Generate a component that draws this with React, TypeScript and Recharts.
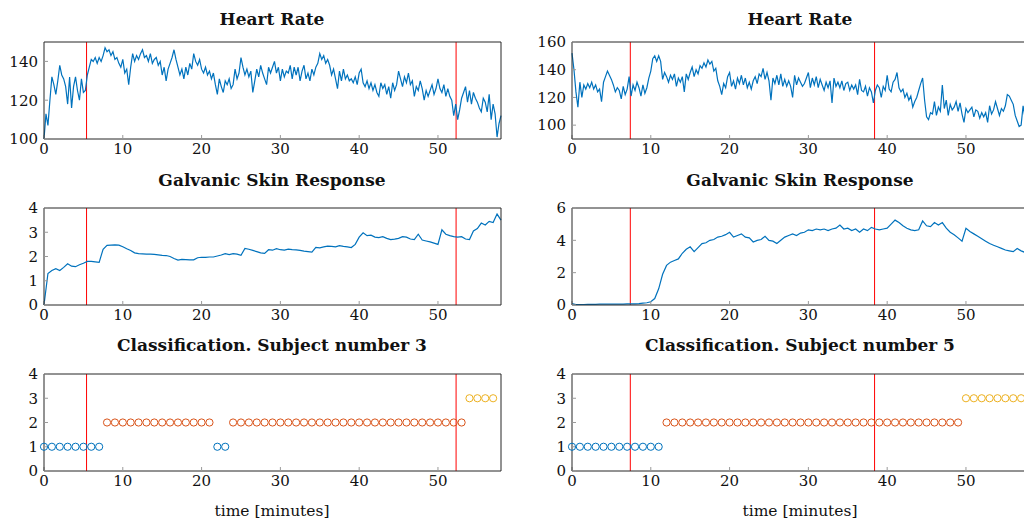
import React from 'react';
import { LineChart, Line, XAxis, YAxis, ReferenceLine } from 'recharts';

// ---------- data ----------
const HR_STEP = 0.25; // minutes between heart-rate samples
const GSR_STEP = 0.5; // minutes between GSR samples
const X_MAX = 58;
const X_TICKS = [0, 10, 20, 30, 40, 50];

// Subject 3 heart rate (t = 0 .. 58, step 0.25)
const hrSubject3 = [
  100, 113, 107, 120, 132, 128, 123, 130, 138, 133, 131, 127, 118, 132, 116, 127,
  132, 125, 120, 131, 124, 125, 133, 137, 141, 140, 142, 139, 142, 140, 143, 147,
  145, 146, 143, 145, 141, 142, 139, 137, 141, 134, 136, 128, 137, 144, 140, 143,
  141, 144, 146, 142, 143, 140, 144, 139, 141, 142, 138, 140, 133, 137, 130, 136,
  139, 142, 146, 141, 137, 133, 136, 131, 137, 133, 139, 136, 144, 140, 138, 141,
  136, 134, 137, 133, 135, 131, 134, 128, 123, 131, 127, 124, 130, 128, 131, 126,
  128, 136, 131, 134, 142, 137, 133, 136, 132, 135, 124, 130, 136, 132, 138, 134,
  131, 128, 137, 134, 137, 140, 134, 137, 130, 136, 132, 135, 134, 138, 131, 137,
  133, 137, 130, 135, 138, 131, 134, 130, 136, 133, 137, 139, 144, 141, 143, 139,
  141, 138, 133, 136, 131, 126, 135, 130, 136, 131, 133, 130, 131, 129, 132, 128,
  134, 136, 129, 127, 130, 126, 129, 125, 128, 124, 122, 129, 126, 128, 123, 127,
  121, 129, 125, 128, 135, 131, 127, 132, 129, 134, 128, 130, 122, 127, 125, 130,
  126, 120, 125, 122, 125, 128, 123, 126, 131, 126, 124, 128, 122, 126, 122, 120,
  112, 118, 110, 115, 121, 124, 127, 119, 125, 118, 124, 121, 119, 116, 114, 121,
  119, 114, 123, 110, 118, 113, 101, 108, 112,
];

// Subject 5 heart rate (t = 0 .. 58, step 0.25)
const hrSubject5 = [
  152, 140, 124, 113, 131, 120, 129, 126, 130, 127, 131, 126, 129, 124, 126, 117,
  131, 135, 139, 136, 133, 129, 124, 127, 125, 119, 128, 122, 126, 135, 121, 129,
  125, 131, 127, 121, 129, 123, 127, 134, 139, 148, 150, 146, 150, 146, 133, 138,
  135, 131, 136, 133, 137, 128, 134, 131, 135, 124, 137, 133, 138, 142, 135, 140,
  137, 143, 141, 145, 142, 147, 144, 146, 139, 141, 132, 128, 122, 130, 127, 135,
  138, 128, 132, 126, 134, 130, 136, 129, 134, 127, 131, 126, 132, 135, 130, 137,
  135, 141, 133, 138, 132, 118, 134, 130, 136, 129, 137, 128, 133, 128, 132, 128,
  120, 136, 129, 134, 131, 128, 130, 134, 138, 127, 134, 129, 135, 127, 133, 129,
  125, 131, 127, 132, 116, 134, 128, 131, 127, 132, 125, 130, 131, 125, 129, 126,
  129, 122, 133, 125, 124, 128, 121, 127, 124, 116, 125, 129, 127, 120, 128, 125,
  136, 126, 124, 131, 133, 138, 127, 124, 126, 120, 123, 118, 121, 113, 117, 120,
  125, 130, 134, 118, 106, 104, 109, 108, 117, 107, 113, 110, 129, 112, 118, 107,
  115, 111, 113, 117, 110, 116, 108, 102, 112, 109, 111, 113, 106, 111, 110, 105,
  109, 106, 109, 102, 114, 108, 111, 117, 112, 107, 112, 110, 114, 122, 121, 118,
  115, 107, 103, 99, 100, 114, 105, 108, 104,
];

// Subject 3 galvanic skin response (t = 0 .. 58, step 0.5)
const gsrSubject3 = [
  0.0, 1.3, 1.42, 1.5, 1.42, 1.55, 1.7, 1.6, 1.58, 1.66, 1.72, 1.8, 1.8, 1.78, 1.76, 2.3,
  2.46, 2.47, 2.48, 2.47, 2.4, 2.32, 2.25, 2.15, 2.12, 2.11, 2.1, 2.1, 2.09, 2.07, 2.05, 2.04,
  2.0, 1.92, 1.85, 1.88, 1.87, 1.86, 1.86, 1.95, 1.97, 1.96, 1.98, 1.98, 2.02, 2.06, 2.12, 2.08,
  2.12, 2.1, 2.05, 2.33, 2.3, 2.25, 2.2, 2.15, 2.13, 2.28, 2.26, 2.32, 2.28, 2.26, 2.3, 2.28,
  2.27, 2.25, 2.22, 2.2, 2.18, 2.38, 2.36, 2.4, 2.43, 2.42, 2.4, 2.45, 2.42, 2.4, 2.37, 2.5,
  2.8, 2.98, 2.86, 2.88, 2.8, 2.78, 2.82, 2.75, 2.7, 2.72, 2.75, 2.82, 2.8, 2.72, 2.7, 2.92,
  2.68, 2.64, 2.6, 2.55, 2.5, 3.1, 2.92, 2.86, 2.82, 2.8, 2.82, 2.72, 2.7, 3.05, 3.15, 3.38,
  3.3, 3.45, 3.4, 3.75, 3.5,
];

// Subject 5 galvanic skin response (t = 0 .. 58, step 0.5)
const gsrSubject5 = [
  0.08, 0.03, 0.03, 0.03, 0.04, 0.04, 0.04, 0.05, 0.05, 0.05, 0.05, 0.06, 0.06, 0.06, 0.07, 0.07,
  0.07, 0.08, 0.12, 0.14, 0.2, 0.4, 1.0, 1.9, 2.45, 2.65, 2.75, 2.85, 3.2, 3.45, 3.6, 3.3,
  3.55, 3.8, 3.85, 4.0, 4.05, 4.2, 4.25, 4.35, 4.5, 4.2, 4.3, 4.4, 4.2, 4.15, 3.9, 4.0,
  4.05, 4.25, 4.0, 3.95, 3.8, 4.0, 4.2, 4.3, 4.4, 4.3, 4.45, 4.5, 4.65, 4.6, 4.7, 4.65,
  4.7, 4.6, 4.7, 4.75, 4.95, 4.7, 4.75, 4.6, 4.7, 4.5, 4.7, 4.6, 4.8, 4.7, 4.65, 4.7,
  4.75, 5.0, 5.25, 5.1, 4.9, 4.75, 4.65, 4.6, 4.65, 5.2, 4.9, 4.85, 5.1, 4.95, 5.1, 4.75,
  4.5, 4.35, 4.15, 3.95, 4.75, 4.55, 4.4, 4.25, 4.1, 3.95, 3.8, 3.7, 3.6, 3.5, 3.4, 3.35,
  3.3, 3.5, 3.35, 3.25, 3.3,
];

// Classification: minutes assigned to each class
const s3Class1 = [0, 1, 2, 3, 4, 5, 6, 7, 22, 23];
const s3Class2 = [
  8, 9, 10, 11, 12, 13, 14, 15, 16, 17, 18, 19, 20, 21,
  24, 25, 26, 27, 28, 29, 30, 31, 32, 33, 34, 35, 36, 37, 38, 39, 40, 41, 42, 43, 44, 45,
  46, 47, 48, 49, 50, 51, 52, 53,
];
const s3Class3 = [54, 55, 56, 57];
const s5Class1 = [0, 1, 2, 3, 4, 5, 6, 7, 8, 9, 10, 11];
const s5Class2 = [
  12, 13, 14, 15, 16, 17, 18, 19, 20, 21, 22, 23, 24, 25, 26, 27, 28, 29, 30, 31, 32, 33,
  34, 35, 36, 37, 38, 39, 40, 41, 42, 43, 44, 45, 46, 47, 48, 49,
];
const s5Class3 = [50, 51, 52, 53, 54, 55, 56, 57];

// Event markers (minutes)
const s3Events = [5.4, 52.3];
const s5Events = [7.4, 38.4];

// ---------- helpers ----------
const toSeries = (vals: number[], step: number) =>
  vals.map((v, i) => ({ t: Math.round(i * step * 100) / 100, v }));
const toClass = (mins: number[], level: number) => mins.map((m) => ({ t: m, v: level }));

const LINE_BLUE = '#0072BD';
const C1 = '#0072BD';
const C2 = '#D95319';
const C3 = '#EDB120';
const AXIS = '#262626';
const TICK = '#9a9a9a';
const FONT = "'DejaVu Serif', 'Liberation Serif', serif";

const YW = 60;
const MT = 12;

type PanelProps = {
  plotLeft: number;
  plotTop: number;
  plotW: number;
  plotH: number;
  yDomain: [number, number];
  yTicks: number[];
  events: number[];
  children: React.ReactNode;
};

function Panel({ plotLeft, plotTop, plotW, plotH, yDomain, yTicks, events, children }: PanelProps) {
  const XH = 30;
  const width = YW + plotW + 1;
  const height = MT + 1 + plotH + XH;
  const tickStyle = { fontFamily: FONT, fontSize: 15, fill: '#111' };
  return (
    <div style={{ position: 'absolute', left: plotLeft - YW, top: plotTop - MT - 1 }}>
      <LineChart width={width} height={height} margin={{ top: MT, right: 0, bottom: 0, left: 0 }}>
        <XAxis
          xAxisId={0}
          type="number"
          dataKey="t"
          domain={[0, X_MAX]}
          ticks={X_TICKS}
          interval={0}
          height={XH}
          tickSize={-4}
          tickMargin={8}
          axisLine={{ stroke: AXIS }}
          tickLine={{ stroke: TICK }}
          tick={tickStyle}
        />
        <XAxis
          xAxisId="top"
          orientation="top"
          type="number"
          dataKey="t"
          domain={[0, X_MAX]}
          ticks={X_TICKS}
          interval={0}
          height={1}
          tickSize={-4}
          axisLine={{ stroke: AXIS }}
          tickLine={{ stroke: TICK }}
          tickFormatter={() => ''}
        />
        <YAxis
          yAxisId={0}
          type="number"
          domain={yDomain}
          ticks={yTicks}
          interval={0}
          width={YW}
          tickSize={-4}
          tickMargin={10}
          axisLine={{ stroke: AXIS }}
          tickLine={{ stroke: TICK }}
          tick={tickStyle}
        />
        <YAxis
          yAxisId="right"
          orientation="right"
          type="number"
          domain={yDomain}
          ticks={yTicks}
          interval={0}
          width={1}
          tickSize={-4}
          axisLine={{ stroke: AXIS }}
          tickLine={{ stroke: TICK }}
          tickFormatter={() => ''}
        />
        {events.map((e) => (
          <ReferenceLine key={e} x={e} stroke="#ff0000" strokeWidth={1} ifOverflow="hidden" />
        ))}
        {children}
      </LineChart>
    </div>
  );
}

const sigLine = (data: { t: number; v: number }[]) => (
  <Line
    data={data}
    dataKey="v"
    type="linear"
    stroke={LINE_BLUE}
    strokeWidth={1.2}
    dot={false}
    activeDot={false}
    isAnimationActive={false}
  />
);

const classLine = (key: string, data: { t: number; v: number }[], color: string) => (
  <Line
    key={key}
    data={data}
    dataKey="v"
    stroke="none"
    dot={{ r: 3.6, stroke: color, strokeWidth: 1, fill: 'none' }}
    activeDot={false}
    isAnimationActive={false}
  />
);

const L_LEFT = 43.5;
const R_LEFT = 571.5;
const PW = 457;
const PH = 97;
const ROW1 = 41.5;
const ROW2 = 207.5;
const ROW3 = 373.5;

export default function App() {
  const titleStyle: React.CSSProperties = { fontFamily: FONT, fontWeight: 'bold', fontSize: 17 };
  const labelStyle: React.CSSProperties = { fontFamily: FONT, fontSize: 15.5 };
  const lc = L_LEFT + PW / 2;
  const rc = R_LEFT + PW / 2;
  return (
    <div
      style={{
        position: 'absolute',
        left: 0,
        top: 0,
        width: 1024,
        height: 524,
        overflow: 'hidden',
        background: '#fff',
      }}
    >
      <Panel plotLeft={L_LEFT} plotTop={ROW1} plotW={PW} plotH={PH} yDomain={[100, 150]} yTicks={[100, 120, 140]} events={s3Events}>
        {sigLine(toSeries(hrSubject3, HR_STEP))}
      </Panel>
      <Panel plotLeft={R_LEFT} plotTop={ROW1} plotW={PW} plotH={PH} yDomain={[90, 160]} yTicks={[100, 120, 140, 160]} events={s5Events}>
        {sigLine(toSeries(hrSubject5, HR_STEP))}
      </Panel>
      <Panel plotLeft={L_LEFT} plotTop={ROW2} plotW={PW} plotH={PH} yDomain={[0, 4]} yTicks={[0, 1, 2, 3, 4]} events={s3Events}>
        {sigLine(toSeries(gsrSubject3, GSR_STEP))}
      </Panel>
      <Panel plotLeft={R_LEFT} plotTop={ROW2} plotW={PW} plotH={PH} yDomain={[0, 6]} yTicks={[0, 2, 4, 6]} events={s5Events}>
        {sigLine(toSeries(gsrSubject5, GSR_STEP))}
      </Panel>
      <Panel plotLeft={L_LEFT} plotTop={ROW3} plotW={PW} plotH={PH} yDomain={[0, 4]} yTicks={[0, 1, 2, 3, 4]} events={s3Events}>
        {classLine('a', toClass(s3Class1, 1), C1)}
        {classLine('b', toClass(s3Class2, 2), C2)}
        {classLine('c', toClass(s3Class3, 3), C3)}
      </Panel>
      <Panel plotLeft={R_LEFT} plotTop={ROW3} plotW={PW} plotH={PH} yDomain={[0, 4]} yTicks={[0, 1, 2, 3, 4]} events={s5Events}>
        {classLine('a', toClass(s5Class1, 1), C1)}
        {classLine('b', toClass(s5Class2, 2), C2)}
        {classLine('c', toClass(s5Class3, 3), C3)}
      </Panel>
      <svg width={1024} height={524} style={{ position: 'absolute', left: 0, top: 0, pointerEvents: 'none' }}>
        <text x={lc} y={24.5} textAnchor="middle" style={titleStyle} fill="#111">Heart Rate</text>
        <text x={rc} y={24.5} textAnchor="middle" style={titleStyle} fill="#111">Heart Rate</text>
        <text x={lc} y={185.5} textAnchor="middle" style={titleStyle} fill="#111">Galvanic Skin Response</text>
        <text x={rc} y={185.5} textAnchor="middle" style={titleStyle} fill="#111">Galvanic Skin Response</text>
        <text x={lc} y={351} textAnchor="middle" style={titleStyle} fill="#111">Classification. Subject number 3</text>
        <text x={rc} y={351} textAnchor="middle" style={titleStyle} fill="#111">Classification. Subject number 5</text>
        <text x={lc} y={516} textAnchor="middle" style={labelStyle} fill="#111">time [minutes]</text>
        <text x={rc} y={516} textAnchor="middle" style={labelStyle} fill="#111">time [minutes]</text>
      </svg>
    </div>
  );
}
